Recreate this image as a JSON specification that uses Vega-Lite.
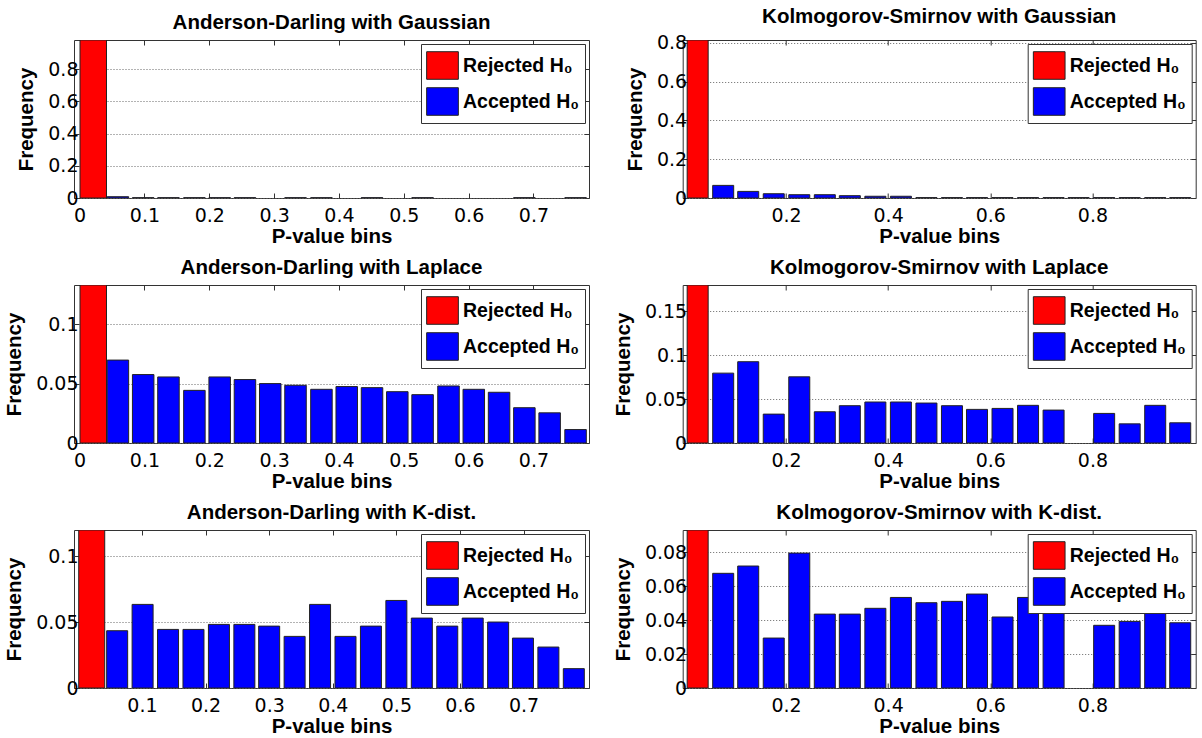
{
  "$schema": "https://vega.github.io/schema/vega-lite/v6.json",
  "padding": {"left": 4, "top": 6, "right": 0, "bottom": 0},
  "background": "white",
  "datasets": {
    "ad_gauss": [
      {"p": 0.021, "freq": 0.98, "status": "Rejected H₀"},
      {"p": 0.059, "freq": 0.008, "status": "Accepted H₀"},
      {"p": 0.098, "freq": 0.002, "status": "Accepted H₀"},
      {"p": 0.137, "freq": 0.002, "status": "Accepted H₀"},
      {"p": 0.177, "freq": 0.002, "status": "Accepted H₀"},
      {"p": 0.216, "freq": 0.002, "status": "Accepted H₀"},
      {"p": 0.255, "freq": 0.002, "status": "Accepted H₀"},
      {"p": 0.333, "freq": 0.002, "status": "Accepted H₀"},
      {"p": 0.373, "freq": 0.002, "status": "Accepted H₀"},
      {"p": 0.451, "freq": 0.002, "status": "Accepted H₀"},
      {"p": 0.529, "freq": 0.002, "status": "Accepted H₀"},
      {"p": 0.686, "freq": 0.002, "status": "Accepted H₀"},
      {"p": 0.765, "freq": 0.002, "status": "Accepted H₀"}
    ],
    "ks_gauss": [
      {"p": 0.027, "freq": 0.814, "status": "Rejected H₀"},
      {"p": 0.077, "freq": 0.065, "status": "Accepted H₀"},
      {"p": 0.126, "freq": 0.034, "status": "Accepted H₀"},
      {"p": 0.176, "freq": 0.022, "status": "Accepted H₀"},
      {"p": 0.226, "freq": 0.017, "status": "Accepted H₀"},
      {"p": 0.276, "freq": 0.017, "status": "Accepted H₀"},
      {"p": 0.325, "freq": 0.012, "status": "Accepted H₀"},
      {"p": 0.375, "freq": 0.009, "status": "Accepted H₀"},
      {"p": 0.425, "freq": 0.009, "status": "Accepted H₀"},
      {"p": 0.475, "freq": 0.002, "status": "Accepted H₀"},
      {"p": 0.525, "freq": 0.002, "status": "Accepted H₀"},
      {"p": 0.574, "freq": 0.002, "status": "Accepted H₀"},
      {"p": 0.624, "freq": 0.002, "status": "Accepted H₀"},
      {"p": 0.674, "freq": 0.002, "status": "Accepted H₀"},
      {"p": 0.724, "freq": 0.002, "status": "Accepted H₀"},
      {"p": 0.773, "freq": 0.002, "status": "Accepted H₀"},
      {"p": 0.823, "freq": 0.002, "status": "Accepted H₀"},
      {"p": 0.873, "freq": 0.002, "status": "Accepted H₀"},
      {"p": 0.923, "freq": 0.002, "status": "Accepted H₀"},
      {"p": 0.972, "freq": 0.002, "status": "Accepted H₀"}
    ],
    "ad_lap": [
      {"p": 0.021, "freq": 0.133, "status": "Rejected H₀"},
      {"p": 0.059, "freq": 0.0698, "status": "Accepted H₀"},
      {"p": 0.098, "freq": 0.0576, "status": "Accepted H₀"},
      {"p": 0.137, "freq": 0.0556, "status": "Accepted H₀"},
      {"p": 0.177, "freq": 0.0443, "status": "Accepted H₀"},
      {"p": 0.216, "freq": 0.0556, "status": "Accepted H₀"},
      {"p": 0.255, "freq": 0.0534, "status": "Accepted H₀"},
      {"p": 0.294, "freq": 0.0500, "status": "Accepted H₀"},
      {"p": 0.333, "freq": 0.0486, "status": "Accepted H₀"},
      {"p": 0.373, "freq": 0.0452, "status": "Accepted H₀"},
      {"p": 0.412, "freq": 0.0475, "status": "Accepted H₀"},
      {"p": 0.451, "freq": 0.0466, "status": "Accepted H₀"},
      {"p": 0.490, "freq": 0.0432, "status": "Accepted H₀"},
      {"p": 0.529, "freq": 0.0407, "status": "Accepted H₀"},
      {"p": 0.569, "freq": 0.0480, "status": "Accepted H₀"},
      {"p": 0.608, "freq": 0.0452, "status": "Accepted H₀"},
      {"p": 0.647, "freq": 0.0427, "status": "Accepted H₀"},
      {"p": 0.686, "freq": 0.0297, "status": "Accepted H₀"},
      {"p": 0.725, "freq": 0.0254, "status": "Accepted H₀"},
      {"p": 0.765, "freq": 0.0113, "status": "Accepted H₀"}
    ],
    "ks_lap": [
      {"p": 0.027, "freq": 0.18, "status": "Rejected H₀"},
      {"p": 0.077, "freq": 0.0796, "status": "Accepted H₀"},
      {"p": 0.126, "freq": 0.0926, "status": "Accepted H₀"},
      {"p": 0.176, "freq": 0.0329, "status": "Accepted H₀"},
      {"p": 0.226, "freq": 0.0754, "status": "Accepted H₀"},
      {"p": 0.276, "freq": 0.0356, "status": "Accepted H₀"},
      {"p": 0.325, "freq": 0.0425, "status": "Accepted H₀"},
      {"p": 0.375, "freq": 0.0467, "status": "Accepted H₀"},
      {"p": 0.425, "freq": 0.0467, "status": "Accepted H₀"},
      {"p": 0.475, "freq": 0.0455, "status": "Accepted H₀"},
      {"p": 0.525, "freq": 0.0425, "status": "Accepted H₀"},
      {"p": 0.574, "freq": 0.0383, "status": "Accepted H₀"},
      {"p": 0.624, "freq": 0.0394, "status": "Accepted H₀"},
      {"p": 0.674, "freq": 0.0429, "status": "Accepted H₀"},
      {"p": 0.724, "freq": 0.0375, "status": "Accepted H₀"},
      {"p": 0.823, "freq": 0.0337, "status": "Accepted H₀"},
      {"p": 0.873, "freq": 0.0218, "status": "Accepted H₀"},
      {"p": 0.923, "freq": 0.0429, "status": "Accepted H₀"},
      {"p": 0.972, "freq": 0.0230, "status": "Accepted H₀"}
    ],
    "ad_k": [
      {"p": 0.021, "freq": 0.12, "status": "Rejected H₀"},
      {"p": 0.061, "freq": 0.0435, "status": "Accepted H₀"},
      {"p": 0.101, "freq": 0.0635, "status": "Accepted H₀"},
      {"p": 0.141, "freq": 0.0445, "status": "Accepted H₀"},
      {"p": 0.181, "freq": 0.0445, "status": "Accepted H₀"},
      {"p": 0.221, "freq": 0.0483, "status": "Accepted H₀"},
      {"p": 0.261, "freq": 0.0483, "status": "Accepted H₀"},
      {"p": 0.300, "freq": 0.0470, "status": "Accepted H₀"},
      {"p": 0.340, "freq": 0.0392, "status": "Accepted H₀"},
      {"p": 0.380, "freq": 0.0635, "status": "Accepted H₀"},
      {"p": 0.420, "freq": 0.0392, "status": "Accepted H₀"},
      {"p": 0.460, "freq": 0.0470, "status": "Accepted H₀"},
      {"p": 0.500, "freq": 0.0665, "status": "Accepted H₀"},
      {"p": 0.540, "freq": 0.0531, "status": "Accepted H₀"},
      {"p": 0.580, "freq": 0.0470, "status": "Accepted H₀"},
      {"p": 0.620, "freq": 0.0531, "status": "Accepted H₀"},
      {"p": 0.660, "freq": 0.0501, "status": "Accepted H₀"},
      {"p": 0.699, "freq": 0.0379, "status": "Accepted H₀"},
      {"p": 0.739, "freq": 0.0311, "status": "Accepted H₀"},
      {"p": 0.779, "freq": 0.0147, "status": "Accepted H₀"}
    ],
    "ks_k": [
      {"p": 0.027, "freq": 0.093, "status": "Rejected H₀"},
      {"p": 0.077, "freq": 0.0675, "status": "Accepted H₀"},
      {"p": 0.126, "freq": 0.0718, "status": "Accepted H₀"},
      {"p": 0.176, "freq": 0.0294, "status": "Accepted H₀"},
      {"p": 0.226, "freq": 0.0794, "status": "Accepted H₀"},
      {"p": 0.276, "freq": 0.0435, "status": "Accepted H₀"},
      {"p": 0.325, "freq": 0.0435, "status": "Accepted H₀"},
      {"p": 0.375, "freq": 0.0469, "status": "Accepted H₀"},
      {"p": 0.425, "freq": 0.0533, "status": "Accepted H₀"},
      {"p": 0.475, "freq": 0.0502, "status": "Accepted H₀"},
      {"p": 0.525, "freq": 0.0510, "status": "Accepted H₀"},
      {"p": 0.574, "freq": 0.0553, "status": "Accepted H₀"},
      {"p": 0.624, "freq": 0.0418, "status": "Accepted H₀"},
      {"p": 0.674, "freq": 0.0533, "status": "Accepted H₀"},
      {"p": 0.724, "freq": 0.0520, "status": "Accepted H₀"},
      {"p": 0.823, "freq": 0.0369, "status": "Accepted H₀"},
      {"p": 0.873, "freq": 0.0392, "status": "Accepted H₀"},
      {"p": 0.923, "freq": 0.0500, "status": "Accepted H₀"},
      {"p": 0.972, "freq": 0.0384, "status": "Accepted H₀"}
    ]
  },
  "columns": 2,
  "spacing": {"row": 87, "column": 93.7},
  "bounds": "flush",
  "resolve": {"scale": {"color": "independent"}, "legend": {"color": "independent"}},
  "concat": [
    {
      "title": "Anderson-Darling with Gaussian",
      "width": 515, "height": 158,
      "data": {"name": "ad_gauss"},
      "layer": [
        {
          "transform": [{"filter": "datum.status == 'Rejected H₀'"}],
          "mark": {"type": "bar", "width": 26.5, "clip": true},
          "encoding": {
            "x": {"field": "p", "type": "quantitative", "scale": {"domain": [-0.001, 0.778], "nice": false, "zero": false}, "axis": {"orient": "bottom", "title": "P-value bins", "values": [0, 0.1, 0.2, 0.3, 0.4, 0.5, 0.6, 0.7], "format": "~g"}},
            "y": {"field": "freq", "type": "quantitative", "scale": {"domain": [0, 0.98], "nice": false}, "axis": {"orient": "left", "title": "Frequency", "values": [0, 0.2, 0.4, 0.6, 0.8], "grid": true, "format": "~g"}},
            "color": {"field": "status", "type": "nominal", "scale": {"domain": ["Rejected H₀", "Accepted H₀"], "range": ["#ff0000", "#0000ff"]}, "legend": {"title": null}}
          }
        },
        {
          "transform": [{"filter": "datum.status == 'Accepted H₀'"}],
          "mark": {"type": "bar", "width": 21.5, "clip": true},
          "encoding": {
            "x": {"field": "p", "type": "quantitative", "axis": {"orient": "top", "title": null, "labels": false, "values": [0, 0.1, 0.2, 0.3, 0.4, 0.5, 0.6, 0.7]}},
            "y": {"field": "freq", "type": "quantitative", "axis": {"orient": "right", "title": null, "labels": false, "values": [0, 0.2, 0.4, 0.6, 0.8]}},
            "color": {"field": "status", "type": "nominal", "scale": {"domain": ["Rejected H₀", "Accepted H₀"], "range": ["#ff0000", "#0000ff"]}, "legend": {"title": null}}
          }
        }
      ],
      "resolve": {"axis": {"x": "independent", "y": "independent"}}
    },
    {
      "title": "Kolmogorov-Smirnov with Gaussian",
      "width": 513, "height": 158,
      "data": {"name": "ks_gauss"},
      "layer": [
        {
          "transform": [{"filter": "datum.status == 'Rejected H₀'"}],
          "mark": {"type": "bar", "width": 21, "clip": true},
          "encoding": {
            "x": {"field": "p", "type": "quantitative", "scale": {"domain": [0.0075, 0.9925], "nice": false, "zero": false}, "axis": {"orient": "bottom", "title": "P-value bins", "values": [0.2, 0.4, 0.6, 0.8], "format": "~g"}},
            "y": {"field": "freq", "type": "quantitative", "scale": {"domain": [0, 0.814], "nice": false}, "axis": {"orient": "left", "title": "Frequency", "values": [0, 0.2, 0.4, 0.6, 0.8], "grid": true, "format": "~g"}},
            "color": {"field": "status", "type": "nominal", "scale": {"domain": ["Rejected H₀", "Accepted H₀"], "range": ["#ff0000", "#0000ff"]}, "legend": {"title": null}}
          }
        },
        {
          "transform": [{"filter": "datum.status == 'Accepted H₀'"}],
          "mark": {"type": "bar", "width": 21, "clip": true},
          "encoding": {
            "x": {"field": "p", "type": "quantitative", "axis": {"orient": "top", "title": null, "labels": false, "values": [0.2, 0.4, 0.6, 0.8]}},
            "y": {"field": "freq", "type": "quantitative", "axis": {"orient": "right", "title": null, "labels": false, "values": [0, 0.2, 0.4, 0.6, 0.8]}},
            "color": {"field": "status", "type": "nominal", "scale": {"domain": ["Rejected H₀", "Accepted H₀"], "range": ["#ff0000", "#0000ff"]}, "legend": {"title": null}}
          }
        }
      ],
      "resolve": {"axis": {"x": "independent", "y": "independent"}}
    },
    {
      "title": "Anderson-Darling with Laplace",
      "width": 515, "height": 158,
      "data": {"name": "ad_lap"},
      "layer": [
        {
          "transform": [{"filter": "datum.status == 'Rejected H₀'"}],
          "mark": {"type": "bar", "width": 26.5, "clip": true},
          "encoding": {
            "x": {"field": "p", "type": "quantitative", "scale": {"domain": [-0.001, 0.778], "nice": false, "zero": false}, "axis": {"orient": "bottom", "title": "P-value bins", "values": [0, 0.1, 0.2, 0.3, 0.4, 0.5, 0.6, 0.7], "format": "~g"}},
            "y": {"field": "freq", "type": "quantitative", "scale": {"domain": [0, 0.133], "nice": false}, "axis": {"orient": "left", "title": "Frequency", "values": [0, 0.05, 0.1], "grid": true, "format": "~g"}},
            "color": {"field": "status", "type": "nominal", "scale": {"domain": ["Rejected H₀", "Accepted H₀"], "range": ["#ff0000", "#0000ff"]}, "legend": {"title": null}}
          }
        },
        {
          "transform": [{"filter": "datum.status == 'Accepted H₀'"}],
          "mark": {"type": "bar", "width": 21.5, "clip": true},
          "encoding": {
            "x": {"field": "p", "type": "quantitative", "axis": {"orient": "top", "title": null, "labels": false, "values": [0, 0.1, 0.2, 0.3, 0.4, 0.5, 0.6, 0.7]}},
            "y": {"field": "freq", "type": "quantitative", "axis": {"orient": "right", "title": null, "labels": false, "values": [0, 0.05, 0.1]}},
            "color": {"field": "status", "type": "nominal", "scale": {"domain": ["Rejected H₀", "Accepted H₀"], "range": ["#ff0000", "#0000ff"]}, "legend": {"title": null}}
          }
        }
      ],
      "resolve": {"axis": {"x": "independent", "y": "independent"}}
    },
    {
      "title": "Kolmogorov-Smirnov with Laplace",
      "width": 513, "height": 158,
      "data": {"name": "ks_lap"},
      "layer": [
        {
          "transform": [{"filter": "datum.status == 'Rejected H₀'"}],
          "mark": {"type": "bar", "width": 21, "clip": true},
          "encoding": {
            "x": {"field": "p", "type": "quantitative", "scale": {"domain": [0.0075, 0.9925], "nice": false, "zero": false}, "axis": {"orient": "bottom", "title": "P-value bins", "values": [0.2, 0.4, 0.6, 0.8], "format": "~g"}},
            "y": {"field": "freq", "type": "quantitative", "scale": {"domain": [0, 0.18], "nice": false}, "axis": {"orient": "left", "title": "Frequency", "values": [0, 0.05, 0.1, 0.15], "grid": true, "format": "~g"}},
            "color": {"field": "status", "type": "nominal", "scale": {"domain": ["Rejected H₀", "Accepted H₀"], "range": ["#ff0000", "#0000ff"]}, "legend": {"title": null}}
          }
        },
        {
          "transform": [{"filter": "datum.status == 'Accepted H₀'"}],
          "mark": {"type": "bar", "width": 21, "clip": true},
          "encoding": {
            "x": {"field": "p", "type": "quantitative", "axis": {"orient": "top", "title": null, "labels": false, "values": [0.2, 0.4, 0.6, 0.8]}},
            "y": {"field": "freq", "type": "quantitative", "axis": {"orient": "right", "title": null, "labels": false, "values": [0, 0.05, 0.1, 0.15]}},
            "color": {"field": "status", "type": "nominal", "scale": {"domain": ["Rejected H₀", "Accepted H₀"], "range": ["#ff0000", "#0000ff"]}, "legend": {"title": null}}
          }
        }
      ],
      "resolve": {"axis": {"x": "independent", "y": "independent"}}
    },
    {
      "title": "Anderson-Darling with K-dist.",
      "width": 515, "height": 158,
      "data": {"name": "ad_k"},
      "layer": [
        {
          "transform": [{"filter": "datum.status == 'Rejected H₀'"}],
          "mark": {"type": "bar", "width": 26, "clip": true},
          "encoding": {
            "x": {"field": "p", "type": "quantitative", "scale": {"domain": [0.001, 0.795], "nice": false, "zero": false}, "axis": {"orient": "bottom", "title": "P-value bins", "values": [0.1, 0.2, 0.3, 0.4, 0.5, 0.6, 0.7], "format": "~g"}},
            "y": {"field": "freq", "type": "quantitative", "scale": {"domain": [0, 0.12], "nice": false}, "axis": {"orient": "left", "title": "Frequency", "values": [0, 0.05, 0.1], "grid": true, "format": "~g"}},
            "color": {"field": "status", "type": "nominal", "scale": {"domain": ["Rejected H₀", "Accepted H₀"], "range": ["#ff0000", "#0000ff"]}, "legend": {"title": null}}
          }
        },
        {
          "transform": [{"filter": "datum.status == 'Accepted H₀'"}],
          "mark": {"type": "bar", "width": 21, "clip": true},
          "encoding": {
            "x": {"field": "p", "type": "quantitative", "axis": {"orient": "top", "title": null, "labels": false, "values": [0.1, 0.2, 0.3, 0.4, 0.5, 0.6, 0.7]}},
            "y": {"field": "freq", "type": "quantitative", "axis": {"orient": "right", "title": null, "labels": false, "values": [0, 0.05, 0.1]}},
            "color": {"field": "status", "type": "nominal", "scale": {"domain": ["Rejected H₀", "Accepted H₀"], "range": ["#ff0000", "#0000ff"]}, "legend": {"title": null}}
          }
        }
      ],
      "resolve": {"axis": {"x": "independent", "y": "independent"}}
    },
    {
      "title": "Kolmogorov-Smirnov with K-dist.",
      "width": 513, "height": 158,
      "data": {"name": "ks_k"},
      "layer": [
        {
          "transform": [{"filter": "datum.status == 'Rejected H₀'"}],
          "mark": {"type": "bar", "width": 21, "clip": true},
          "encoding": {
            "x": {"field": "p", "type": "quantitative", "scale": {"domain": [0.0075, 0.9925], "nice": false, "zero": false}, "axis": {"orient": "bottom", "title": "P-value bins", "values": [0.2, 0.4, 0.6, 0.8], "format": "~g"}},
            "y": {"field": "freq", "type": "quantitative", "scale": {"domain": [0, 0.093], "nice": false}, "axis": {"orient": "left", "title": "Frequency", "values": [0, 0.02, 0.04, 0.06, 0.08], "grid": true, "format": "~g"}},
            "color": {"field": "status", "type": "nominal", "scale": {"domain": ["Rejected H₀", "Accepted H₀"], "range": ["#ff0000", "#0000ff"]}, "legend": {"title": null}}
          }
        },
        {
          "transform": [{"filter": "datum.status == 'Accepted H₀'"}],
          "mark": {"type": "bar", "width": 21, "clip": true},
          "encoding": {
            "x": {"field": "p", "type": "quantitative", "axis": {"orient": "top", "title": null, "labels": false, "values": [0.2, 0.4, 0.6, 0.8]}},
            "y": {"field": "freq", "type": "quantitative", "axis": {"orient": "right", "title": null, "labels": false, "values": [0, 0.02, 0.04, 0.06, 0.08]}},
            "color": {"field": "status", "type": "nominal", "scale": {"domain": ["Rejected H₀", "Accepted H₀"], "range": ["#ff0000", "#0000ff"]}, "legend": {"title": null}}
          }
        }
      ],
      "resolve": {"axis": {"x": "independent", "y": "independent"}}
    }
  ],
  "config": {
    "font": "Liberation Sans",
    "view": {"stroke": "#333", "strokeWidth": 1},
    "title": {"fontSize": 20.5, "fontWeight": "bold", "color": "#000", "offset": 6, "frame": "group", "anchor": "middle"},
    "bar": {"stroke": "#222", "strokeWidth": 1, "opacity": 1},
    "axis": {"domain": false, "ticks": true, "tickSize": -5, "tickColor": "#333", "labelFontSize": 19, "labelColor": "#000", "labelFont": "DejaVu Sans", "titleFont": "Liberation Sans", "titleFontSize": 20.5, "titleFontWeight": "bold", "titleColor": "#000", "grid": false, "gridColor": "#666", "gridDash": [1, 2], "labelOverlap": false, "labelFlush": false},
    "axisX": {"labelPadding": 13, "titlePadding": 1},
    "axisY": {"labelPadding": 1, "titlePadding": 11},
    "legend": {"orient": "top-right", "offset": 4, "fillColor": "white", "strokeColor": "#333", "padding": 5, "labelFont": "Liberation Sans", "labelFontSize": 19.5, "labelFontWeight": "bold", "labelColor": "#000", "symbolType": "M-1,-0.87H1V0.87H-1Z", "symbolSize": 1005, "symbolStrokeColor": "#222", "symbolStrokeWidth": 1, "symbolOpacity": 1, "rowPadding": 3, "labelOffset": 4, "labelLimit": 300}
  }
}
